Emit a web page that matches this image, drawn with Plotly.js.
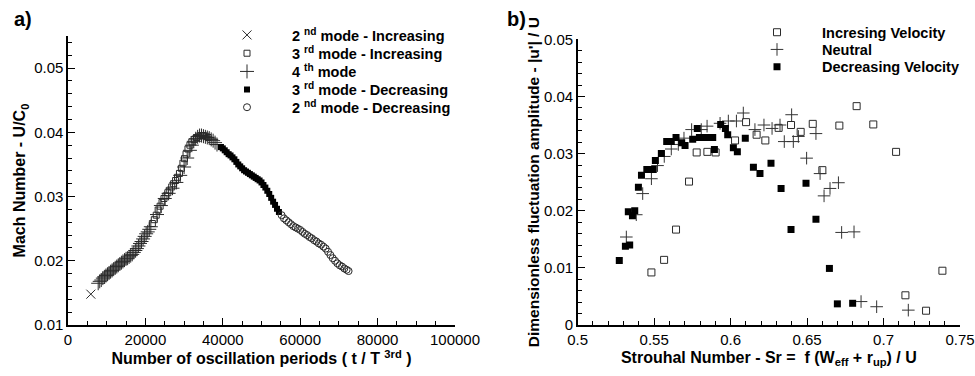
<!DOCTYPE html>
<html>
<head>
<meta charset="utf-8">
<script src="https://cdn.plot.ly/plotly-3.0.1.min.js"></script>
<style>html,body{margin:0;padding:0;background:#fff;}#chart{width:975px;height:376px;}</style>
</head>
<body>
<div id="chart"></div>
<script>
// ---------- Panel a) : Mach number vs number of oscillation periods ----------
const mode2IncX = [5900];
const mode2IncY = [0.0148];

const mode3IncX = [21800, 22300, 22800, 23300, 23800, 24300, 24800, 25300, 25800, 26300, 26800, 27300, 27800, 28300, 28800, 29300, 29700, 30100, 30500, 31000, 31500, 32000, 32600, 33200, 33800, 34400, 35000, 35600, 36200];
const mode3IncY = [0.0258, 0.0264, 0.0271, 0.0279, 0.0285, 0.0291, 0.0297, 0.0301, 0.0306, 0.0310, 0.0315, 0.0320, 0.0325, 0.0330, 0.0336, 0.0344, 0.0352, 0.0359, 0.0366, 0.0374, 0.0380, 0.0385, 0.0389, 0.0392, 0.0394, 0.0395, 0.0395, 0.0394, 0.0392];

const mode4X = [7800, 8200, 8600, 9000, 9400, 9800, 10200, 10600, 11000, 11400, 11800, 12200, 12600, 13000, 13400, 13800, 14200, 14600, 15000, 15400, 15800, 16200, 16600, 17000, 17400, 17800, 18200, 18600, 19000, 19400, 19800, 20200, 20600, 21000, 21400,
                23000, 24000, 25000, 26000, 27000, 28000, 29000, 30000, 30800, 31500, 32000, 32500, 33000, 33500, 34000, 34500, 35000, 35500, 36000, 36500, 37000, 37500, 38000, 38500];
const mode4Y = [0.0165, 0.0168, 0.0170, 0.0173, 0.0175, 0.0177, 0.0179, 0.0181, 0.0183, 0.0185, 0.0187, 0.0189, 0.0191, 0.0193, 0.0195, 0.0197, 0.0199, 0.0201, 0.0203, 0.0204, 0.0206, 0.0208, 0.0210, 0.0213, 0.0216, 0.0219, 0.0223, 0.0227, 0.0230, 0.0234, 0.0238, 0.0242, 0.0245, 0.0249, 0.0253,
                0.0272, 0.0286, 0.0297, 0.0305, 0.0313, 0.0322, 0.0333, 0.0346, 0.0360, 0.0372, 0.0380, 0.0386, 0.0390, 0.0393, 0.0395, 0.0395, 0.0394, 0.0393, 0.0392, 0.0391, 0.0389, 0.0387, 0.0384, 0.0381];

const mode3DecX = [39500, 40000, 40500, 41000, 41500, 42000, 42500, 43000, 43500, 44000, 44500, 45000, 45500, 46000, 46500, 47000, 47500, 48000, 48500, 49000, 49500, 50000, 50500, 51000, 51500, 52000, 52500, 53000, 53500, 54000, 54500];
const mode3DecY = [0.0377, 0.0375, 0.0372, 0.0369, 0.0366, 0.0364, 0.0361, 0.0358, 0.0354, 0.0350, 0.0347, 0.0344, 0.0341, 0.0339, 0.0337, 0.0335, 0.0333, 0.0331, 0.0329, 0.0327, 0.0325, 0.0322, 0.0318, 0.0314, 0.0309, 0.0304, 0.0298, 0.0292, 0.0287, 0.0281, 0.0276];

const mode2DecX = [55200, 55800, 56400, 57000, 57600, 58200, 58800, 59400, 60000, 60600, 61200, 61800, 62400, 63000, 63600, 64200, 64800, 65400, 66000, 66600, 67200, 67800, 68400, 69000, 69600, 70200, 70800, 71400, 72000, 72500];
const mode2DecY = [0.0271, 0.0266, 0.0263, 0.0260, 0.0257, 0.0254, 0.0252, 0.0250, 0.0248, 0.0245, 0.0242, 0.0240, 0.0237, 0.0235, 0.0232, 0.0230, 0.0227, 0.0225, 0.0222, 0.0219, 0.0214, 0.0209, 0.0204, 0.0200, 0.0196, 0.0193, 0.0191, 0.0188, 0.0186, 0.0184];

const aXTicks = [0, 20000, 40000, 60000, 80000, 100000];
const aYTicks = [0.01, 0.02, 0.03, 0.04, 0.05];

// ---------- Panel b) : fluctuation amplitude vs Strouhal number ----------
const incSr = [0.5482, 0.5565, 0.5643, 0.5728, 0.5778, 0.5848, 0.5902, 0.6029, 0.6101, 0.6170, 0.6227, 0.6314, 0.6395, 0.6458, 0.6537, 0.6600, 0.6711, 0.6824, 0.6933, 0.7082, 0.7143, 0.7278, 0.7385];
const incAmp = [0.0092, 0.0114, 0.0167, 0.0251, 0.0302, 0.0303, 0.0302, 0.0323, 0.0355, 0.0333, 0.0323, 0.0345, 0.0350, 0.0338, 0.0352, 0.0271, 0.0349, 0.0383, 0.0351, 0.0303, 0.0052, 0.0025, 0.0095];

const neuSr = [0.5318, 0.5383, 0.5425, 0.5482, 0.5522, 0.5566, 0.5612, 0.5658, 0.5695, 0.5745, 0.5808, 0.5846, 0.5931, 0.5985, 0.6038, 0.6083, 0.6159, 0.6218, 0.6271, 0.6323, 0.6351, 0.6399, 0.6410, 0.6443, 0.6497, 0.6558, 0.6585, 0.6611, 0.6650, 0.6705, 0.6726, 0.6807, 0.6853, 0.6955, 0.7162];
const neuAmp = [0.0154, 0.0193, 0.0230, 0.0256, 0.0279, 0.0295, 0.0308, 0.0316, 0.0327, 0.0342, 0.0342, 0.0348, 0.0353, 0.0357, 0.0357, 0.0371, 0.0342, 0.0350, 0.0344, 0.0350, 0.0321, 0.0368, 0.0321, 0.0330, 0.0292, 0.0335, 0.0265, 0.0226, 0.0239, 0.0249, 0.0162, 0.0163, 0.0041, 0.0032, 0.0026];

const decSr = [0.5272, 0.5312, 0.5340, 0.5331, 0.5358, 0.5373, 0.5397, 0.5417, 0.5452, 0.5494, 0.5508, 0.5547, 0.5582, 0.5612, 0.5643, 0.5680, 0.5702, 0.5752, 0.5782, 0.5796, 0.5822, 0.5854, 0.5883, 0.5894, 0.5935, 0.5966, 0.5981, 0.6018, 0.6044, 0.6096, 0.6149, 0.6192, 0.6264, 0.6330, 0.6395, 0.6493, 0.6558, 0.6646, 0.6698, 0.6798];
const decAmp = [0.0113, 0.0138, 0.0140, 0.0198, 0.0191, 0.0200, 0.0241, 0.0262, 0.0272, 0.0272, 0.0288, 0.0300, 0.0321, 0.0321, 0.0328, 0.0319, 0.0314, 0.0325, 0.0344, 0.0328, 0.0328, 0.0328, 0.0328, 0.0307, 0.0351, 0.0344, 0.0333, 0.0310, 0.0303, 0.0327, 0.0276, 0.0265, 0.0283, 0.0239, 0.0167, 0.0248, 0.0185, 0.0099, 0.0037, 0.0038];

const bXTicks = [0.5, 0.55, 0.6, 0.65, 0.7, 0.75];
const bYTicks = [0, 0.01, 0.02, 0.03, 0.04, 0.05];

// ---------- styling ----------
const FONT = 'Liberation Sans, Arial, Helvetica, sans-serif';
const INK = '#000000';
const MK = '#2a2a2a';
const W = 975, H = 376;
const M = {l: 68, r: 15, t: 36, b: 51};
const PW = W - M.l - M.r, PH = H - M.t - M.b;
const px2x = px => (px - M.l) / PW;
const py2y = py => (H - M.b - py) / PH;

function legendAt(px, py) {
  return {
    xref: 'paper', yref: 'paper',
    x: px2x(px), y: py2y(py), xanchor: 'left', yanchor: 'middle',
    itemwidth: 80, bgcolor: 'rgba(0,0,0,0)', borderwidth: 0,
    font: {family: FONT, size: 14.5, weight: 'bold', color: INK}
  };
}

const traces = [
  {x: mode2IncX, y: mode2IncY, xaxis: 'x', yaxis: 'y', type: 'scatter', mode: 'markers', name: '2 <sup>nd</sup> mode - Increasing', legend: 'legend',
   marker: {symbol: 'x-thin', size: 9, color: MK, line: {width: 1, color: MK}}},
  {x: mode3IncX, y: mode3IncY, xaxis: 'x', yaxis: 'y', type: 'scatter', mode: 'markers', name: '3 <sup>rd</sup> mode - Increasing', legend: 'legend2',
   marker: {symbol: 'square-open', size: 6, color: MK, line: {width: 1, color: MK}}},
  {x: mode4X, y: mode4Y, xaxis: 'x', yaxis: 'y', type: 'scatter', mode: 'markers', name: '4 <sup>th</sup> mode', legend: 'legend3',
   marker: {symbol: 'cross-thin', size: 10, color: MK, line: {width: 1, color: MK}}},
  {x: mode3DecX, y: mode3DecY, xaxis: 'x', yaxis: 'y', type: 'scatter', mode: 'markers', name: '3 <sup>rd</sup> mode - Decreasing', legend: 'legend4',
   marker: {symbol: 'square', size: 6, color: INK, line: {width: 0}}},
  {x: mode2DecX, y: mode2DecY, xaxis: 'x', yaxis: 'y', type: 'scatter', mode: 'markers', name: '2 <sup>nd</sup> mode - Decreasing', legend: 'legend5',
   marker: {symbol: 'circle-open', size: 7, color: MK, line: {width: 1, color: MK}}},

  {x: incSr, y: incAmp, xaxis: 'x2', yaxis: 'y2', type: 'scatter', mode: 'markers', name: 'Incresing Velocity', legend: 'legend6',
   marker: {symbol: 'square-open', size: 7, color: MK, line: {width: 1, color: MK}}},
  {x: neuSr, y: neuAmp, xaxis: 'x2', yaxis: 'y2', type: 'scatter', mode: 'markers', name: 'Neutral', legend: 'legend7',
   marker: {symbol: 'cross-thin', size: 9, color: '#333333', line: {width: 1, color: '#333333'}}},
  {x: decSr, y: decAmp, xaxis: 'x2', yaxis: 'y2', type: 'scatter', mode: 'markers', name: 'Decreasing Velocity', legend: 'legend8',
   marker: {symbol: 'square', size: 7, color: INK, line: {width: 0}}}
];

function axisBase() {
  return {
    showgrid: false, zeroline: false, showline: true, linecolor: INK, linewidth: 1.6,
    ticks: 'inside', ticklen: 7, tickwidth: 1, tickcolor: INK,
    tickfont: {family: FONT, size: 15, color: INK},
    fixedrange: true, automargin: false
  };
}
const titleFont = {family: FONT, size: 16, weight: 'bold', color: INK};

const layout = {
  width: W, height: H, margin: Object.assign({autoexpand: false}, M),
  paper_bgcolor: '#ffffff', plot_bgcolor: '#ffffff',
  showlegend: true,
  xaxis: Object.assign(axisBase(), {
    domain: [0, px2x(455)], anchor: 'y', range: [0, 100000],
    tickvals: aXTicks, ticktext: aXTicks.map(String),
    minor: {dtick: 5000, tick0: 0, ticks: 'inside', ticklen: 4, tickwidth: 1, tickcolor: INK},
    title: {text: 'Number of oscillation periods ( t / T <sup>3rd</sup> )', font: titleFont, standoff: 5}
  }),
  yaxis: Object.assign(axisBase(), {
    domain: [0, 1], anchor: 'x', range: [0.01, 0.055],
    tickvals: aYTicks, ticktext: aYTicks.map(v => String(v)),
    minor: {dtick: 0.002, tick0: 0.01, ticks: 'inside', ticklen: 4, tickwidth: 1, tickcolor: INK},
    title: {text: 'Mach Number - U/C<sub>0</sub>', font: titleFont, standoff: 4}
  }),
  xaxis2: Object.assign(axisBase(), {
    domain: [px2x(577.7), 1], anchor: 'y2', range: [0.5, 0.75],
    tickvals: bXTicks, ticktext: bXTicks.map(v => String(v)),
    minor: {dtick: 0.01, tick0: 0.5, ticks: 'inside', ticklen: 4, tickwidth: 1, tickcolor: INK},
    title: {text: 'Strouhal Number - Sr =  f (W<sub>eff</sub> + r<sub>up</sub>) / U', font: titleFont, standoff: 5}
  }),
  yaxis2: Object.assign(axisBase(), {
    domain: [0, py2y(39.3)], anchor: 'x2', range: [0, 0.05],
    tickvals: bYTicks, ticktext: bYTicks.map(v => String(v)),
    minor: {dtick: 0.002, tick0: 0, ticks: 'inside', ticklen: 4, tickwidth: 1, tickcolor: INK},
    title: {text: "Dimensionless fluctuation amplitude - |u'| / U", font: Object.assign({}, titleFont, {size: 15.5}), standoff: 0}
  }),
  legend: legendAt(202, 35),
  legend2: legendAt(202, 53.3),
  legend3: legendAt(202, 71.5),
  legend4: legendAt(202, 89.5),
  legend5: legendAt(202, 107.3),
  legend6: legendAt(732, 32.3),
  legend7: legendAt(732, 49.5),
  legend8: legendAt(732, 66.7),
  annotations: [
    {xref: 'paper', yref: 'paper', x: px2x(12), y: py2y(19), xanchor: 'left', yanchor: 'middle', showarrow: false,
     text: 'a)', font: {family: FONT, size: 20, weight: 'bold', color: INK}},
    {xref: 'paper', yref: 'paper', x: px2x(505), y: py2y(19), xanchor: 'left', yanchor: 'middle', showarrow: false,
     text: 'b)', font: {family: FONT, size: 20, weight: 'bold', color: INK}}
  ]
};

Plotly.newPlot('chart', traces, layout, {staticPlot: true, displayModeBar: false});
</script>
</body>
</html>
